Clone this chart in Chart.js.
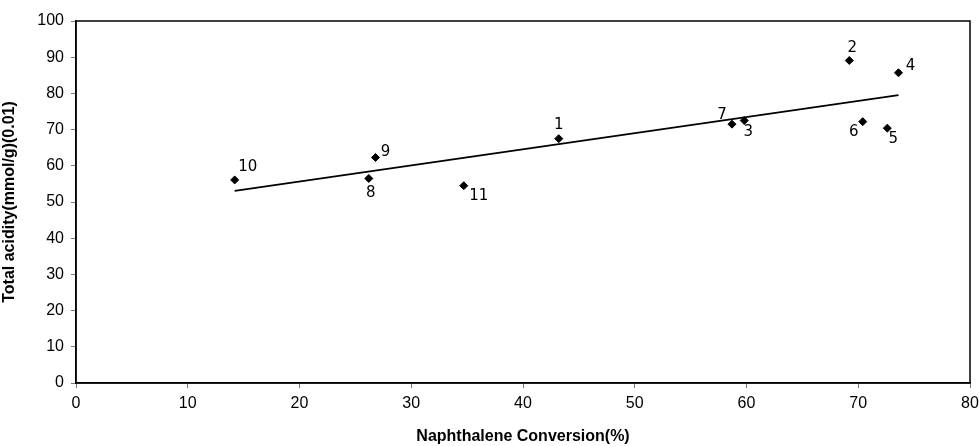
<!DOCTYPE html>
<html>
<head>
<meta charset="utf-8">
<script src="https://cdn.jsdelivr.net/npm/chart.js@4"></script>
<style>
  html, body { margin: 0; padding: 0; background: #fff; }
  #wrap { width: 979px; height: 446px; }
</style>
</head>
<body>
<div id="wrap"><canvas id="myChart" width="979" height="446"></canvas></div>
<script>
var sampleLabels = ["1", "2", "3", "4", "5", "6", "7", "8", "9", "10", "11"];
var conversion = [43.2, 69.2, 59.8, 73.6, 72.6, 70.4, 58.7, 26.2, 26.8, 14.2, 34.7];
var acidity = [67.5, 89.1, 72.5, 85.7, 70.4, 72.2, 71.5, 56.5, 62.3, 56.1, 54.5];
// linear trend line end points
var trendX = [14.2, 73.6];
var trendY = [53.1, 79.5];

// where each number sits next to its point (pixels)
var labelOffsets = {
    "1": [0, -14], "2": [3, -12], "3": [4, 12], "4": [12, -7], "5": [6, 11],
    "6": [-9, 10], "7": [-10, -9], "8": [2, 15], "9": [10, -5], "10": [13, -13], "11": [15, 10]
};

var points = conversion.map(function(x, i) { return { x: x, y: acidity[i] }; });
var trend = trendX.map(function(x, i) { return { x: x, y: trendY[i] }; });

var pointLabels = {
    id: "pointLabels",
    afterDatasetsDraw: function(chart) {
        var ctx = chart.ctx;
        var meta = chart.getDatasetMeta(1);
        ctx.save();
        ctx.fillStyle = "#000";
        ctx.font = "15px 'DejaVu Sans'";
        ctx.textAlign = "center";
        ctx.textBaseline = "middle";
        meta.data.forEach(function(el, i) {
            var name = sampleLabels[i];
            var off = labelOffsets[name];
            ctx.fillText(name, el.x + off[0], el.y + off[1]);
        });
        ctx.restore();
    }
};

var frame = {
    id: "frame",
    beforeDatasetsDraw: function(chart) {
        var a = chart.chartArea;
        var ctx = chart.ctx;
        ctx.save();
        ctx.strokeStyle = "#000";
        ctx.lineWidth = 1.5;
        ctx.strokeRect(a.left, a.top, a.right - a.left, a.bottom - a.top);
        ctx.restore();
    }
};

var tickFont = { family: "'Liberation Sans', Arial", size: 16 };
var titleFont = { family: "'Liberation Sans', Arial", size: 16, weight: "bold" };

var ctx = document.getElementById("myChart").getContext("2d");
var myChart = new Chart(ctx, {
    type: "scatter",
    data: {
        datasets: [{
            type: "line",
            label: "trend",
            data: trend,
            borderColor: "#000",
            borderWidth: 1.8,
            pointRadius: 0,
            tension: 0,
            fill: false
        }, {
            label: "samples",
            data: points,
            backgroundColor: "#000",
            borderColor: "#000",
            pointStyle: "rectRot",
            pointRadius: 4,
            pointHoverRadius: 4
        }]
    },
    options: {
        responsive: false,
        animation: false,
        layout: { padding: { top: 21, right: 9, left: 0, bottom: 0 } },
        plugins: {
            legend: { display: false },
            tooltip: { enabled: false }
        },
        scales: {
            x: {
                type: "linear",
                min: 0,
                max: 80,
                afterFit: function(scale) {
                    scale.height = 63;
                    scale.paddingLeft = 0;
                    scale.paddingRight = 0;
                },
                ticks: { stepSize: 10, color: "#000", padding: 6, maxRotation: 0, font: tickFont },
                grid: { drawOnChartArea: false, drawTicks: true, tickLength: 5, color: "#777" },
                border: { color: "#000", width: 1.5 },
                title: {
                    display: true,
                    text: "Naphthalene Conversion(%)",
                    color: "#000",
                    padding: { top: 8, bottom: 0 },
                    font: titleFont
                }
            },
            y: {
                type: "linear",
                min: 0,
                max: 100,
                afterFit: function(scale) {
                    scale.width = 76;
                    scale.paddingTop = 0;
                    scale.paddingBottom = 0;
                },
                ticks: { stepSize: 10, color: "#000", padding: 7, font: tickFont },
                grid: { drawOnChartArea: false, drawTicks: true, tickLength: 5, color: "#777" },
                border: { color: "#000", width: 1.5 },
                title: {
                    display: true,
                    text: "Total acidity(mmol/g)(0.01)",
                    color: "#000",
                    padding: { top: 0, bottom: 4 },
                    font: titleFont
                }
            }
        }
    },
    plugins: [frame, pointLabels]
});
</script>
</body>
</html>
